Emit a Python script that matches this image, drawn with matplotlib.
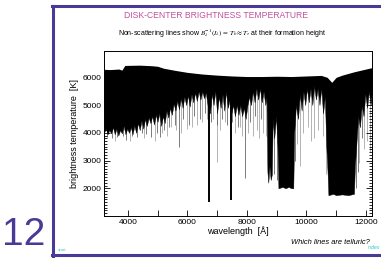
from matplotlib import pyplot
import matplotlib.ticker as ticker
from matplotlib.lines import Line2D

pyplot.rcParams['font.family'] = ['Liberation Sans', 'DejaVu Sans']
pyplot.rcParams['mathtext.fontset'] = 'stix'

# upper envelope (continuum) of the spectrum, wavelength [A] / temperature [K]
cont_wl = [3200, 3400, 3700, 3800, 3900, 4400, 4800, 5000, 5200, 5600, 6000, 6500,
           7000, 7500, 8000, 8500, 9000, 9500, 10000, 10500, 10700, 10850, 11000,
           11200, 11600, 12000, 12200]
cont_T = [6290, 6280, 6300, 6260, 6430, 6440, 6420, 6400, 6330, 6250, 6180, 6120,
          6080, 6050, 6030, 6030, 6040, 6030, 6050, 6070, 6000, 5820, 6000,
          6080, 6200, 6300, 6350]

# lower edge of the dense black line forest
band_wl = [3200, 3260, 3320, 3380, 3440, 3500, 3560, 3620, 3680, 3740, 3800, 3860,
           3920, 3980, 4040, 4100, 4160, 4220, 4280, 4340, 4400, 4460, 4520, 4580,
           4640, 4700, 4760, 4820, 4880, 4940, 5000, 5060, 5120, 5180, 5240, 5300,
           5360, 5420, 5480, 5540, 5600, 5660, 5720, 5780, 5840, 5900, 5960, 6020,
           6080, 6140, 6200, 6260, 6320, 6380, 6440, 6500, 6560, 6620, 6680, 6760,
           6820, 6880, 6940, 7000, 7060, 7120, 7180, 7240, 7300, 7360, 7420, 7480,
           7540, 7600, 7660, 7720, 7780, 7840, 7900, 7960, 8020, 8080, 8140, 8200,
           8260, 8320, 8380, 8440, 8500, 8560, 8620, 8660, 8690, 8720, 8760, 8800,
           8840, 8870, 8920, 8980, 9030, 9060, 9200, 9300, 9400, 9500, 9560, 9590,
           9650, 9720, 9780, 9840, 9900, 9960, 10020, 10080, 10140, 10200, 10260, 10320,
           10380, 10440, 10500, 10560, 10620, 10670, 10710, 10740, 10900, 11000, 11200,
           11400, 11600, 11630, 11680, 11740, 11800, 11860, 11920, 11980, 12040, 12100,
           12160, 12200]
band_T = [4000, 4150, 3950, 4100, 3980, 4200, 3950, 4150, 3900, 4100, 3980, 4250,
          3950, 4150, 4000, 4200, 3950, 4250, 4000, 4350, 4100, 4450, 4150, 4500,
          4250, 4550, 4350, 4600, 4300, 4650, 4400, 4700, 4250, 4600, 4350, 4800,
          4550, 4900, 4650, 5050, 4800, 5150, 4850, 5250, 4900, 5300, 5000, 5350,
          4950, 5400, 5100, 5450, 5150, 5500, 5200, 5500, 5250, 5450, 5000, 4700,
          5400, 5000, 5500, 4700, 5300, 4900, 5400, 4800, 5500, 4900, 5200, 4700,
          5000, 4600, 5000, 4650, 5000, 4600, 4900, 4500, 5000, 5300, 5000, 5500,
          5100, 5600, 5200, 5600, 5100, 5500, 5000, 5300, 2600, 2200, 2800, 2300,
          2500, 4500, 3800, 4600, 3500, 2000, 2050, 2000, 2050, 2000, 2000, 4000,
          5000, 4500, 5400, 4800, 5500, 5000, 5600, 5100, 5600, 5000, 5700, 5200,
          5600, 5000, 5600, 4700, 5300, 3500, 2600, 1750, 1800, 1750, 1780,
          1750, 1800, 2800, 3600, 4600, 4200, 5000, 4600, 5400, 4900, 5500,
          5000, 5500]

# darker grey lines: position and minimum temperature
dark_wl = [3290, 3470, 3650, 3830, 3950, 4130, 4310, 4490, 4610, 4790, 4970, 5070,
           5210, 5390, 5570, 5730, 5870, 6050, 6230, 6410, 6590, 6790, 6990, 7150,
           7330, 7510, 7690, 7950, 8110, 8290, 8470, 8900, 9000, 9620, 11660, 11720,
           11880]
dark_T = [3850, 3800, 3850, 3900, 3750, 3900, 3850, 4000, 3950, 3850, 4000, 3840,
          4100, 4200, 4300, 3480, 4500, 4300, 4600, 4500, 4700, 4400, 4300, 4500,
          4300, 4400, 4200, 2360, 4400, 4600, 4500, 2500, 2300, 3000, 2000, 2600,
          3800]

# lighter grey lines
light_wl = [3560, 4060, 4550, 4900, 5150, 5300, 5450, 5620, 5800, 5980, 6170, 6320,
            6500, 6650, 6870, 7000, 7090, 7250, 7430, 7600, 7780, 7850, 8050, 8200,
            8350, 8420, 8550, 8640, 9700, 9800, 9880, 10050, 10150, 10250, 10400,
            10550, 10650, 11780, 11950, 12050, 12150]
light_T = [3700, 3700, 3800, 3700, 4000, 3900, 4200, 4100, 4000, 4150, 4200, 4300,
           4400, 4500, 4500, 2940, 4100, 4400, 4100, 4000, 4200, 3900, 4000, 3900,
           4100, 3800, 4000, 3900, 3600, 2800, 4000, 4200, 3700, 3800, 4100,
           3900, 2500, 2900, 3400, 3700, 3300]

# strong (black) lines: O2 B and A bands
strong_wl = [6720, 7480]
strong_T = [1500, 1560]

fig = pyplot.figure(figsize=(3.81, 2.59), dpi=100)
ax = fig.add_axes([0.273, 0.166, 0.703, 0.637])

top = 6600
ax.vlines(light_wl, light_T, [top] * len(light_wl), colors='0.7', linewidth=0.7, zorder=1)
ax.vlines(dark_wl, dark_T, [top] * len(dark_wl), colors='0.4', linewidth=0.6, zorder=1)
ax.fill_between(band_wl, band_T, [top] * len(band_wl), color='black', linewidth=0.3,
                edgecolor='black', zorder=2)
ax.vlines(strong_wl, strong_T, [top] * len(strong_wl), colors='black', linewidth=1.4, zorder=2)
# blank out everything above the continuum
ax.fill_between(cont_wl, cont_T, [7000] * len(cont_wl), color='white', linewidth=0, zorder=2.1)

ax.set_xlim(3200, 12200)
ax.set_ylim(1000, 6950)
ax.xaxis.set_major_locator(ticker.MultipleLocator(2000))
ax.xaxis.set_minor_locator(ticker.MultipleLocator(1000))
ax.yaxis.set_minor_locator(ticker.MultipleLocator(100))
ax.set_yticks([2000, 3000, 4000, 5000, 6000])
ax.tick_params(which='both', direction='in', top=True, right=True, labelsize=6,
               width=0.6, pad=2)
ax.tick_params(which='major', length=4)
ax.tick_params(which='minor', length=2)
ax.tick_params(axis='x', which='minor', length=4)
for s in ax.spines.values():
    s.set_linewidth(0.7)
    s.set_zorder(3)

ax.set_xlabel('wavelength  [Å]', fontsize=6.5, labelpad=0)
ax.set_ylabel('brightness temperature  [K]', fontsize=6.5, labelpad=2)

# slide decorations
purple = '#4a3a98'
fig.add_artist(Line2D([0.139, 0.139], [0.012, 0.977], color=purple, linewidth=2.2))
fig.add_artist(Line2D([0.137, 1.0], [0.975, 0.975], color=purple, linewidth=2.2))
fig.add_artist(Line2D([0.137, 1.0], [0.014, 0.014], color=purple, linewidth=2.2))
fig.text(0.062, 0.025, '12', color=purple, fontsize=28, ha='center', va='bottom')
fig.text(0.567, 0.94, 'DISK-CENTER BRIGHTNESS TEMPERATURE', color='#c0529c',
         fontsize=6.2, ha='center', va='center')
fig.text(0.582, 0.868,
         r'Non-scattering lines show $B_\lambda^{-1}(I_\lambda)\,=\,T_b\approx T_\tau$ at their formation height',
         fontsize=5.0, ha='center', va='center')
fig.text(0.97, 0.062, 'Which lines are telluric?', fontsize=5.4, style='italic',
         ha='right', va='center')
fig.text(0.153, 0.035, 'start', color='#33cccc', fontsize=3.2, va='center')
fig.text(0.966, 0.045, 'index', color='#33cccc', fontsize=3.8, style='italic', va='center')

fig.savefig('out.png')
